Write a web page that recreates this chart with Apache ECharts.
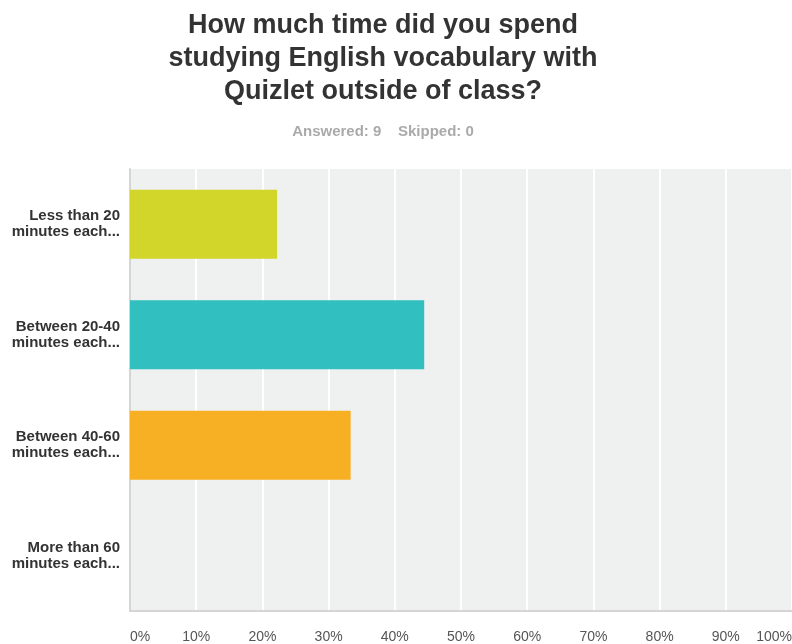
<!DOCTYPE html>
<html>
<head>
<meta charset="utf-8">
<script src="https://cdn.jsdelivr.net/npm/echarts@6/dist/echarts.min.js"></script>
<style>
html,body{margin:0;padding:0;background:#fff;}
#chart{width:792px;height:644px;}
</style>
</head>
<body>
<div id="chart"></div>
<script>
const titleText = 'How much time did you spend\nstudying English vocabulary with\nQuizlet outside of class?';
const subText = 'Answered: 9    Skipped: 0';
const categories = ['Less than 20\nminutes each...', 'Between 20-40\nminutes each...', 'Between 40-60\nminutes each...', 'More than 60\nminutes each...'];
const values = [22.22, 44.44, 33.33, 0];
const barColors = ['#d2d62a', '#31bfbf', '#f7b024', '#9b4b9b'];
const tickValues = [0, 10, 20, 30, 40, 50, 60, 70, 80, 90, 100];

const font = '"Liberation Sans", Arial, Helvetica, sans-serif';
const chart = echarts.init(document.getElementById('chart'), null, {renderer: 'canvas'});
chart.setOption({
  animation: false,
  title: [{
    text: titleText,
    left: 383, top: 9, textAlign: 'center', padding: 0,
    textStyle: {fontFamily: font, fontSize: 27, fontWeight: 'bold', color: '#333', lineHeight: 33}
  }, {
    text: subText,
    left: 383, top: 122, textAlign: 'center', padding: 0,
    textStyle: {fontFamily: font, fontSize: 15, fontWeight: 'bold', color: '#aaa', lineHeight: 20}
  }],
  grid: {left: 130, width: 662, top: 169, bottom: 33, show: true, backgroundColor: '#eff0f0', borderWidth: 0,
         containLabel: false, outerBoundsMode: 'none'},
  xAxis: {
    type: 'value', min: 0, max: 100, interval: 10,
    axisLine: {show: true, lineStyle: {color: '#d5d5d5', width: 2}},
    axisTick: {show: false},
    splitLine: {show: true, lineStyle: {color: '#ffffff', width: 2}},
    axisLabel: {
      margin: 19, fontFamily: font, fontSize: 14, color: '#555',
      alignMinLabel: 'left', alignMaxLabel: 'right',
      formatter: v => tickValues.includes(v) ? v + '%' : ''
    }
  },
  yAxis: {
    type: 'category', data: categories, inverse: true,
    axisLine: {show: true, onZero: false, lineStyle: {color: '#d5d5d5', width: 2}},
    axisTick: {show: false},
    splitLine: {show: false},
    axisLabel: {margin: 10, fontFamily: font, fontSize: 15, fontWeight: 'bold', color: '#333', lineHeight: 16, align: 'right'}
  },
  series: [{
    type: 'bar',
    data: values.map((v, i) => ({value: v, itemStyle: {color: barColors[i]}})),
    barWidth: 69,
    label: {show: false}
  }]
});
</script>
</body>
</html>
